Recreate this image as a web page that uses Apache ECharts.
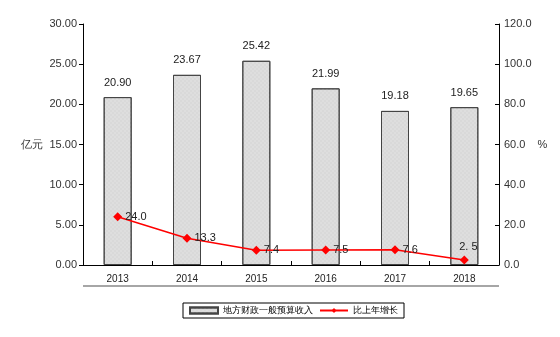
<!DOCTYPE html>
<html>
<head>
<meta charset="utf-8">
<script src="https://cdn.jsdelivr.net/npm/echarts@6/dist/echarts.min.js"></script>
<style>
html,body{margin:0;padding:0;background:#fff;}
#chart{width:560px;height:337px;}
</style>
</head>
<body>
<div id="chart"></div>
<script>
// Years on the category axis
var years = ['2013', '2014', '2015', '2016', '2017', '2018'];
// Local general budget revenue (亿元)
var revenue = [20.90, 23.67, 25.42, 21.99, 19.18, 19.65];
// Year-on-year growth (%)
var growth = [24.0, 13.3, 7.4, 7.5, 7.6, 2.5];
// Tick labels for both value axes
var leftTicks = ['0.00', '5.00', '10.00', '15.00', '20.00', '25.00', '30.00'];
var rightTicks = ['0.0', '20.0', '40.0', '60.0', '80.0', '100.0', '120.0'];

var FONT = 'Liberation Sans, Arial, sans-serif';
var chart = echarts.init(document.getElementById('chart'), null, {renderer: 'canvas'});

var option = {
  animation: false,
  backgroundColor: '#ffffff',
  textStyle: {fontFamily: FONT},
  grid: {left: 83, right: 61, top: 24, bottom: 72},
  legend: {
    bottom: 19,
    left: 183,
    itemGap: 6,
    itemWidth: 28,
    itemHeight: 6,
    padding: [3, 6, 3, 6],
    borderColor: '#000',
    borderWidth: 1,
    borderRadius: 0,
    textStyle: {fontSize: 9, color: '#000', fontFamily: FONT},
    data: [
      {name: '地方财政一般预算收入', icon: 'rect'},
      {name: '比上年增长'}
    ]
  },
  xAxis: {
    type: 'category',
    data: years,
    axisLine: {lineStyle: {color: '#000', width: 1}},
    axisTick: {show: true, inside: true, length: 4, lineStyle: {color: '#000'}},
    axisLabel: {fontSize: 10, color: '#222', margin: 9, fontFamily: FONT},
    splitLine: {show: false}
  },
  yAxis: [
    {
      type: 'value', min: 0, max: 30, interval: 5,
      name: '亿元', nameLocation: 'middle', nameRotate: 0, nameGap: 40,
      nameTextStyle: {fontSize: 11, color: '#333', fontFamily: FONT},
      axisLine: {show: true, lineStyle: {color: '#000'}},
      axisTick: {show: true, length: 4, lineStyle: {color: '#000'}},
      axisLabel: {
        fontSize: 11, color: '#333', margin: 6, fontFamily: FONT,
        formatter: function (v) { return leftTicks[Math.round(v / 5)]; }
      },
      splitLine: {show: false}
    },
    {
      type: 'value', min: 0, max: 120, interval: 20,
      name: '%', nameLocation: 'middle', nameRotate: 0, nameGap: 36,
      nameTextStyle: {fontSize: 11, color: '#333', fontFamily: FONT},
      axisLine: {show: true, lineStyle: {color: '#000'}},
      axisTick: {show: true, inside: true, length: 4, lineStyle: {color: '#000'}},
      axisLabel: {
        fontSize: 11, color: '#333', margin: 5, fontFamily: FONT,
        formatter: function (v) { return rightTicks[Math.round(v / 20)]; }
      },
      splitLine: {show: false}
    }
  ],
  series: [
    {
      name: '地方财政一般预算收入',
      type: 'bar',
      yAxisIndex: 0,
      data: revenue,
      barWidth: 28,
      itemStyle: {
        color: '#d9d9d9',
        borderColor: '#444',
        borderWidth: 1,
        decal: {
          symbol: 'rect',
          symbolSize: 0.6,
          dashArrayX: [[2, 2], [0, 2, 2, 0]],
          dashArrayY: [2, 0],
          color: 'rgba(255,255,255,0.45)'
        }
      },
      label: {
        show: true, position: 'top', distance: 9,
        fontSize: 11, color: '#222', fontFamily: FONT,
        formatter: function (p) { return p.value.toFixed(2); }
      }
    },
    {
      name: '比上年增长',
      type: 'line',
      yAxisIndex: 1,
      data: growth,
      symbol: 'diamond',
      symbolSize: 9,
      lineStyle: {color: '#ff0000', width: 1.5},
      itemStyle: {color: '#ff0000'},
      label: {
        show: true, position: 'right', distance: 3,
        fontSize: 11, color: '#222', fontFamily: FONT,
        formatter: function (p) { return p.value.toFixed(1); }
      },
      z: 5
    }
  ],
  graphic: [
    {
      type: 'line',
      shape: {x1: 83, y1: 286, x2: 499, y2: 286},
      style: {stroke: '#888', lineWidth: 1.5}
    }
  ]
};

// The last point's label sits above its marker
option.series[1].data = growth.map(function (v, i) {
  if (i === growth.length - 1) {
    return {value: v, label: {position: 'top', offset: [4, 0], formatter: '2. 5'}};
  }
  return v;
});

chart.setOption(option);
</script>
</body>
</html>
